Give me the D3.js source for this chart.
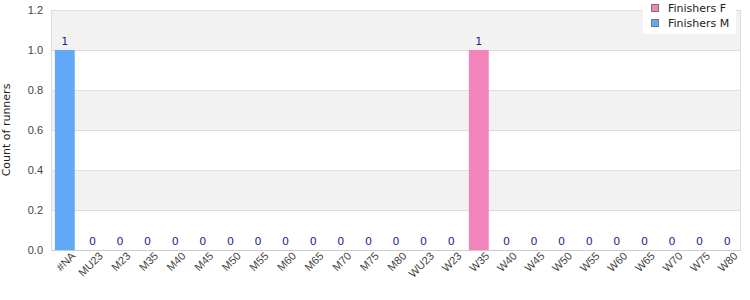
<!DOCTYPE html>
<html>
<head>
<meta charset="utf-8">
<script src="https://cdn.jsdelivr.net/npm/d3@7"></script>
<style>
  body { margin: 0; background: #fff; font-family: "DejaVu Sans", sans-serif; }
  .axis text { fill: #444; font-size: 11px; }
</style>
</head>
<body>
<div id="chart"></div>
<script>
// categories and series
var categories = ["#NA", "MU23", "M23", "M35", "M40", "M45", "M50", "M55", "M60", "M65", "M70", "M75", "M80",
                  "WU23", "W23", "W35", "W40", "W45", "W50", "W55", "W60", "W65", "W70", "W75", "W80"];
var finishersF = [0, 0, 0, 0, 0, 0, 0, 0, 0, 0, 0, 0, 0, 0, 0, 1, 0, 0, 0, 0, 0, 0, 0, 0, 0];
var finishersM = [1, 0, 0, 0, 0, 0, 0, 0, 0, 0, 0, 0, 0, 0, 0, 0, 0, 0, 0, 0, 0, 0, 0, 0, 0];
var yTicks = [0, 0.2, 0.4, 0.6, 0.8, 1.0, 1.2];

var seriesNames = ["Finishers F", "Finishers M"];
var colors = {"Finishers F": "#f283bb", "Finishers M": "#60a9f6"};

var width = 750, height = 300;
var margin = {top: 10, right: 9, bottom: 50, left: 51};
var w = width - margin.left - margin.right,
    h = height - margin.top - margin.bottom;

var rows = categories.map(function(c, i){
    return {cat: c, "Finishers F": finishersF[i], "Finishers M": finishersM[i]};
});

var stack = d3.stack().keys(seriesNames)(rows);

var xScale = d3.scaleBand().domain(categories).range([0, w]).paddingInner(0.28).paddingOuter(0.14);
var yScale = d3.scaleLinear().domain([0, 1.2]).range([h, 0]);

var svg = d3.select("#chart").append("svg")
    .attr("width", width).attr("height", height)
    .append("g")
    .attr("transform", "translate(" + margin.left + "," + margin.top + ")");

// alternating bands
for (var i = 0; i < yTicks.length - 1; i++) {
    svg.append("rect")
        .attr("x", 0).attr("width", w)
        .attr("y", yScale(yTicks[i + 1]))
        .attr("height", yScale(yTicks[i]) - yScale(yTicks[i + 1]))
        .attr("fill", i % 2 == 1 ? "#f2f2f2" : "#fff");
}

// gridlines
svg.selectAll(".grid").data(yTicks).enter().append("line")
    .attr("x1", 0).attr("x2", w)
    .attr("y1", function(d){ return Math.round(yScale(d)) + 0.5; })
    .attr("y2", function(d){ return Math.round(yScale(d)) + 0.5; })
    .attr("stroke", "#dddddd");

// frame
svg.append("line").attr("x1", 0.5).attr("x2", 0.5).attr("y1", 0).attr("y2", h).attr("stroke", "#dddddd");
svg.append("line").attr("x1", w - 0.5).attr("x2", w - 0.5).attr("y1", 0).attr("y2", h).attr("stroke", "#dddddd");

// bars
svg.selectAll(".layer").data(stack).enter().append("g")
    .attr("fill", function(d){ return colors[d.key]; })
    .selectAll("rect").data(function(d){ return d; }).enter().append("rect")
    .attr("x", function(d){ return xScale(d.data.cat); })
    .attr("width", xScale.bandwidth())
    .attr("y", function(d){ return yScale(d[1]); })
    .attr("height", function(d){ return yScale(d[0]) - yScale(d[1]); });

// total labels
svg.selectAll(".total").data(rows).enter().append("text")
    .attr("x", function(d){ return xScale(d.cat) + xScale.bandwidth() / 2; })
    .attr("y", function(d){ return yScale(d["Finishers F"] + d["Finishers M"]) - 5; })
    .attr("text-anchor", "middle")
    .attr("fill", "#1f1f8f")
    .style("font-size", "11px")
    .text(function(d){ return d["Finishers F"] + d["Finishers M"]; });

// axes
var yAxis = d3.axisLeft(yScale).tickValues(yTicks).tickSize(0).tickPadding(8).tickFormat(d3.format(".1f"));
svg.append("g").attr("class", "y axis").call(yAxis).select(".domain").remove();

var xAxis = d3.axisBottom(xScale).tickSize(0).tickPadding(6);
var xg = svg.append("g").attr("class", "x axis")
    .attr("transform", "translate(0," + h + ")")
    .call(xAxis);
xg.select(".domain").remove();
xg.selectAll("text")
    .attr("text-anchor", "end")
    .attr("dx", "0.3em")
    .attr("dy", "0.6em")
    .attr("transform", "rotate(-45)");

svg.append("line").attr("x1", 0).attr("x2", w)
    .attr("y1", h + 0.5).attr("y2", h + 0.5).attr("stroke", "#cccccc");

// y label
svg.append("text")
    .attr("transform", "rotate(-90)")
    .attr("x", -h / 2).attr("y", -41)
    .attr("text-anchor", "middle")
    .attr("fill", "#222")
    .style("font-size", "11px")
    .text("Count of runners");

// legend
var legend = d3.select("svg").append("g").attr("transform", "translate(643,0)");
legend.append("rect").attr("width", 93).attr("height", 34).attr("fill", "#fff");
seriesNames.forEach(function(name, i){
    legend.append("rect")
        .attr("x", 8.5).attr("y", 4.5 + i * 15)
        .attr("width", 7).attr("height", 7)
        .attr("fill", colors[name]).attr("stroke", "#777");
    legend.append("text")
        .attr("x", 25).attr("y", 12 + i * 15)
        .attr("fill", "#222")
        .style("font-size", "11px")
        .text(name);
});
</script>
</body>
</html>
